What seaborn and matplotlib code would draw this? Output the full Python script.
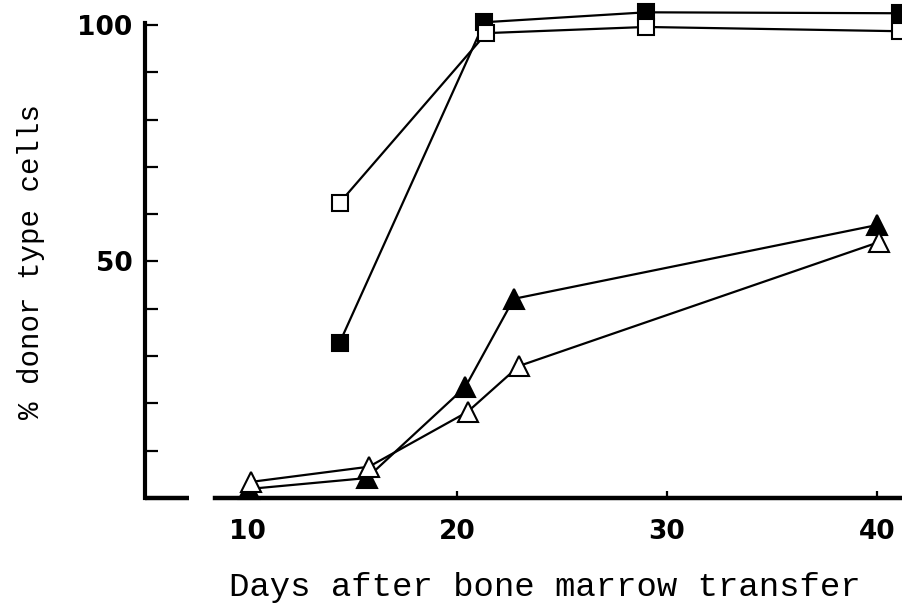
import matplotlib
matplotlib.use("Agg")
import matplotlib.pyplot as plt
import pandas as pd
import seaborn as sns

# values
sq_filled_days = [14.4, 21.3, 29.0, 41.1]
sq_filled_pct = [32.8, 100.6, 102.7, 102.5]
sq_open_days = [14.4, 21.4, 29.0, 41.1]
sq_open_pct = [62.4, 98.3, 99.6, 98.7]
tri_filled_days = [10.1, 15.7, 20.4, 22.7, 40.0]
tri_filled_pct = [1.9, 4.2, 23.5, 42.1, 57.7]
tri_open_days = [10.2, 15.8, 20.5, 22.95, 40.1]
tri_open_pct = [3.4, 6.6, 18.2, 27.9, 54.1]

x_ticks = [10, 20, 30, 40]
y_ticks = [10, 20, 30, 40, 50, 60, 70, 80, 90, 100]
y_labels = ["", "", "", "", "50", "", "", "", "", "100"]


def main():
    sns.set_theme(style="ticks")
    fig = plt.figure(figsize=(9.02, 6.05), dpi=100)
    ax = fig.add_axes([0.161, 0.177, 0.839, 0.805])

    series = [
        (sq_filled_days, sq_filled_pct, "s", "black", 12),
        (sq_open_days, sq_open_pct, "s", "white", 12),
        (tri_filled_days, tri_filled_pct, "^", "black", 14),
        (tri_open_days, tri_open_pct, "^", "white", 14),
    ]
    for days, pct, mk, face, ms in series:
        df = pd.DataFrame({"day": days, "pct": pct})
        sns.lineplot(data=df, x="day", y="pct", ax=ax, color="black",
                     marker=mk, markersize=ms, markerfacecolor=face,
                     markeredgecolor="black", markeredgewidth=1.5,
                     linewidth=1.6, clip_on=False)

    ax.set_xlim(5.14, 41.2)
    ax.set_ylim(0, 103)

    for s in ["top", "right"]:
        ax.spines[s].set_visible(False)
    ax.spines["left"].set_linewidth(3)
    ax.spines["left"].set_color("black")
    ax.spines["left"].set_bounds(0, 100.5)
    ax.spines["bottom"].set_linewidth(3.2)
    ax.spines["bottom"].set_color("black")
    ax.spines["bottom"].set_bounds(8.48, 41.2)
    # short stub of the x axis left of the break
    ax.plot([5.14, 7.24], [0, 0], color="black", lw=3.2,
            transform=ax.get_xaxis_transform(), clip_on=False,
            solid_capstyle="butt")

    ax.set_yticks(y_ticks)
    ax.set_yticklabels(y_labels)
    ax.set_xticks(x_ticks)
    ax.tick_params(axis="y", direction="in", length=9.5, width=1.6, pad=9,
                   labelsize=19, color="black", labelcolor="black")
    ax.tick_params(axis="x", direction="in", length=5, width=1.6, pad=15,
                   labelsize=19, color="black", labelcolor="black")
    for lab in ax.get_xticklabels() + ax.get_yticklabels():
        lab.set_fontweight("bold")
        lab.set_family("DejaVu Sans")

    ax.set_xlabel("Days after bone marrow transfer", family="Liberation Mono",
                  fontsize=24.5, color="black")
    ax.xaxis.set_label_coords(0.528, -0.152)
    ax.set_ylabel("% donor type cells", family="Liberation Mono",
                  fontsize=21, color="black")
    ax.yaxis.set_label_coords(-0.133, 0.485)
    ax.grid(False)

    fig.savefig("out.png", dpi=100)
    plt.close(fig)


if __name__ == "__main__":
    main()
